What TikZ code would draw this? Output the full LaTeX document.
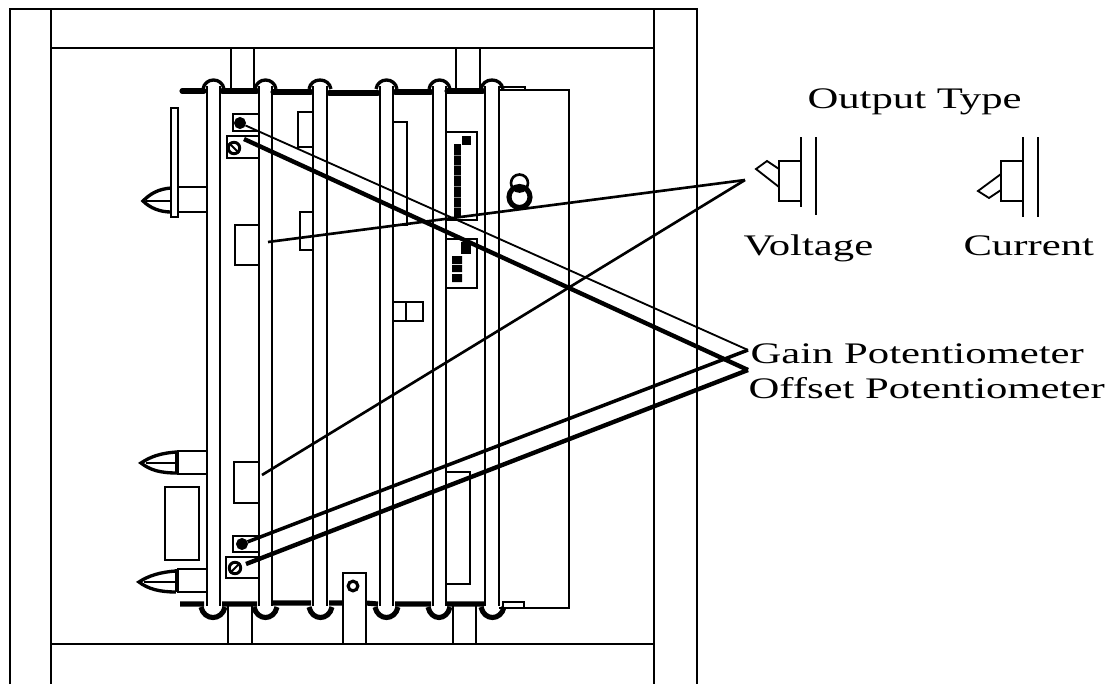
\documentclass[tikz,border=0pt]{standalone}
\usepackage{fontspec}
\setmainfont{Liberation Serif}
\begin{document}
\begin{tikzpicture}[x=0.02cm,y=-0.02cm]
	\tikzstyle{frame line}=[line width=1.5pt]
	\tikzstyle{part line}=[line width=1.1pt]
	\tikzstyle{rail line}=[line width=1.3pt]
	\tikzstyle{dome line}=[line width=1.9pt]
	\tikzstyle{strap line}=[line width=2.9pt]
	\tikzstyle{thin lead}=[line width=1.05pt]
	\tikzstyle{mid lead}=[line width=1.5pt]
	\tikzstyle{heavy lead}=[line width=2.5pt]
	\tikzstyle{small screw}=[circle,draw,fill=black,line width=0.8pt,inner sep=0,minimum size=6pt]
	\tikzstyle{big screw}=[circle,draw,line width=1.7pt,inner sep=0,minimum size=6.5pt]
	\tikzstyle{caption}=[anchor=base west,inner sep=0,font=\fontsize{17}{20}\selectfont,xscale=1.43,transform shape]
	\useasboundingbox (0,0) rectangle (1117,684);
	% outer frame
	\draw[frame line](10,684)--(10,9)--(697,9)--(697,684);
	\draw[frame line](654,9)--(654,684);
	\draw[part line](51,9)--(51,684);
	\draw[part line](51,48)--(654,48);
	\draw[frame line](51,644)--(654,644);
	\draw[part line](231,48)--(231,88) (254,48)--(254,88) (456,48)--(456,90) (480,48)--(480,90);
	\draw[part line](228,606)--(228,644) (252,606)--(252,644) (453,606)--(453,644) (476,606)--(476,644);
	% straps and rails
	\draw[strap line,line cap=round](182,91)--(204,91) (222,91)--(257,91) (273,92)--(311,92) (329,93)--(378,93) (395,92)--(431,92) (447,91)--(483,91);
	\draw[strap line](180,604)--(204,604) (222,604)--(257,604) (273,603)--(311,603) (329,603)--(343,603) (366,603)--(378,604) (395,604)--(431,604) (447,604)--(484,604);
	\draw[rail line](207,86)--(207,606) (220,86)--(220,606) (259,86)--(259,606) (272,86)--(272,606) (313,86)--(313,606) (327,86)--(327,606) (380,86)--(380,606) (393,86)--(393,606) (433,86)--(433,606) (446,86)--(446,606) (485,86)--(485,606) (499,86)--(499,606);
	\draw[dome line](203,89)..controls(205,77)and(222,77)..(224,89) (255,89)..controls(257,77)and(274,77)..(276,89) (309,89)..controls(311,77)and(329,77)..(331,89) (376,89)..controls(378,77)and(395,77)..(397,89) (429,89)..controls(431,77)and(448,77)..(450,89) (481,89)..controls(483,77)and(501,77)..(503,89);
	\draw[strap line](201,607)..controls(204,621)and(222,621)..(225,607) (254,607)..controls(257,621)and(274,621)..(277,607) (309,607)..controls(312,621)and(329,621)..(332,607) (375,607)..controls(378,621)and(395,621)..(398,607) (428,607)..controls(431,621)and(447,621)..(450,607) (481,607)..controls(484,621)and(501,621)..(504,607);
	% box behind the rails
	\draw[part line](499,90)--(569,90)--(569,608)--(499,608);
	\draw[part line](499,87)--(525,87)--(525,90) (503,608)--(503,602)--(524,602)--(524,608);
	\draw[part line](313,112)--(298,112)--(298,147)--(313,147) (313,212)--(300,212)--(300,250)--(313,250);
	\draw[part line](393,122)--(407,122)--(407,225)--(393,225);
	\draw[part line](393,302)--(423,302)--(423,321)--(393,321) (406,302)--(406,321);
	\draw[part line](446,472)--(470,472)--(470,584)--(446,584);
	% displays
	\draw[part line](446,132)--(477,132)--(477,220)--(446,220);
	\fill(462,136)rectangle(471,145);
	\fill(454,144)rectangle(461,217);
	\draw[gray,line width=0.3pt](454,155)--(461,155) (454,165)--(461,165) (454,175)--(461,175) (454,186)--(461,186) (454,197)--(461,197) (454,207)--(461,207);
	\draw[part line](446,239)--(477,239)--(477,288)--(446,288);
	\fill(461,242)rectangle(471,254);
	\fill(452,256)rectangle(462,264) (452,265)rectangle(462,272) (452,274)rectangle(462,282);
	% knob
	\draw[frame line](519.5,183)circle(8.5);
	\draw[strap line](519.5,197)circle(10.5);
	\draw[part line](512,190)--(527,190);
	% left connectors
	\draw[part line](171,108)rectangle(178,217);
	\draw[part line](178,187)--(207,187) (178,212)--(207,212);
	\draw[dome line](171,188)..controls(158,189)and(150,194)..(143,201)..controls(150,208)and(160,212)..(171,212);
	\draw[rail line](146,201)--(171,201);
	\draw[part line](177,451)--(207,451) (177,474)--(207,474);
	\draw[dome line](177,451)--(177,474);
	\draw[dome line](177,452)..controls(160,453)and(150,457)..(141,463)..controls(150,470)and(160,473)..(177,473);
	\draw[rail line](146,463)--(177,463);
	\draw[part line](165,487)rectangle(199,560);
	\draw[part line](177,569)--(207,569) (177,592)--(207,592);
	\draw[dome line](177,569)--(177,592);
	\draw[dome line](176,571)..controls(160,572)and(148,576)..(139,582)..controls(148,589)and(160,592)..(176,592);
	\draw[rail line](144,582)--(176,582);
	% potentiometer plates
	\draw[part line](259,114)--(233,114)--(233,131)--(259,131);
	\draw[part line](259,136)--(227,136)--(227,158)--(259,158);
	\draw[part line](259,225)--(235,225)--(235,265)--(259,265);
	\draw[part line](259,462)--(234,462)--(234,503)--(259,503);
	\draw[part line](259,536)--(233,536)--(233,552)--(259,552);
	\draw[part line](259,557)--(226,557)--(226,578)--(259,578);
	\node(gain1)[small screw]at(240,123){};
	\node(offset1)[big screw]at(234,148){};
	\node(gain2)[small screw]at(242,544){};
	\node(offset2)[big screw]at(235,568){};
	\draw[part line](offset1.north west)--(offset1.south east);
	\draw[part line](offset2.south west)--(offset2.north east);
	% bracket
	\draw[part line](343,644)--(343,573)--(366,573)--(366,644);
	\node(hole)[circle,draw,line width=1.8pt,inner sep=0,minimum size=5.5pt]at(353,586){};
	% output type symbols
	\draw[part line](801,137)--(801,207) (816,137)--(816,215);
	\draw[part line](801,161)--(779,161)--(779,201)--(801,201);
	\draw[thin lead](779,169)--(767,161)--(756,169)--(779,187);
	\draw[part line](1023,137)--(1023,217) (1038,137)--(1038,217);
	\draw[part line](1023,161)--(1001,161)--(1001,201)--(1023,201);
	\draw[thin lead](1001,174)--(978,191)--(989,198)--(1001,190);
	% labels
	\node(output)[caption]at(807,108){Output Type};
	\node(voltage)[caption]at(743,255){Voltage};
	\node(current)[caption]at(963,255){Current};
	\node(gain)[caption]at(750,363){Gain Potentiometer};
	\node(offset)[caption]at(748,398){Offset Potentiometer};
	% leaders
	\coordinate(typept)at(745,180);
	\coordinate(gainpt)at(748,350);
	\coordinate(offsetpt)at(748,370);
	\coordinate(plate1)at(244,139);
	\coordinate(plate2)at(246,564);
	\coordinate(switch1)at(268,242);
	\coordinate(switch2)at(262,475);
	\draw[thin lead](gain1)--(gainpt);
	\draw[heavy lead](plate1)--(offsetpt);
	\draw[mid lead](switch1)--(typept);
	\draw[mid lead](switch2)--(typept);
	\draw[line width=2pt](gain2)--(gainpt);
	\draw[heavy lead](plate2)--(offsetpt);
\end{tikzpicture}
\end{document}
